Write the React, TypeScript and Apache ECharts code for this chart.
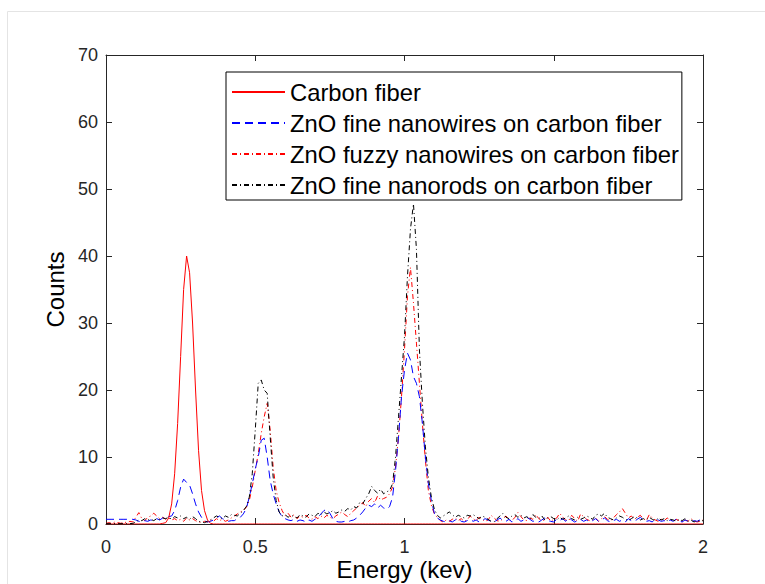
import React, { useEffect, useRef } from "react";
import * as echarts from "echarts";

// Energy grid: 0 to 2 keV in 0.01 keV steps (201 channels)
const energyStep = 0.01;
const channelCount = 201;

const seriesNames = [
  "Carbon fiber",
  "ZnO fine nanowires on carbon fiber",
  "ZnO fuzzy nanowires on carbon fiber",
  "ZnO fine nanorods on carbon fiber",
];

const xTicks = [0, 0.5, 1, 1.5, 2];
const yTicks = [0, 10, 20, 30, 40, 50, 60, 70];

// Counts per channel
const carbonFiber = [
  0, 0, 0, 0, 0, 0, 0, 0, 0, 0,
  0, 0, 0, 0, 0, 0, 0, 0, 0, 0.1,
  0.2, 0.9, 3.0, 7.5, 15, 25, 35, 40, 37.5, 30,
  20, 11, 5, 2, 0.6, 0.1, 0, 0, 0, 0,
  0, 0, 0, 0, 0, 0, 0, 0, 0, 0,
  0, 0, 0, 0, 0, 0, 0, 0, 0, 0,
  0, 0, 0, 0, 0, 0, 0, 0, 0, 0,
  0, 0, 0, 0, 0, 0, 0, 0, 0, 0,
  0, 0, 0, 0, 0, 0, 0, 0, 0, 0,
  0, 0, 0, 0, 0, 0, 0, 0, 0, 0,
  0, 0, 0, 0, 0, 0, 0, 0, 0, 0,
  0, 0, 0, 0, 0, 0, 0, 0, 0, 0,
  0, 0, 0, 0, 0, 0, 0, 0, 0, 0,
  0, 0, 0, 0, 0, 0, 0, 0, 0, 0,
  0, 0, 0, 0, 0, 0, 0, 0, 0, 0,
  0, 0, 0, 0, 0, 0, 0, 0, 0, 0,
  0, 0, 0, 0, 0, 0, 0, 0, 0, 0,
  0, 0, 0, 0, 0, 0, 0, 0, 0, 0,
  0, 0, 0, 0, 0, 0, 0, 0, 0, 0,
  0, 0, 0, 0, 0, 0, 0, 0, 0, 0,
  0,
];

const fineNanowires = [
  0.7, 0.7, 0.7, 0.7, 0.7, 0.7, 0.7, 0.7, 0.7, 0.7,
  0.6, 0.4, 0.3, 0.5, 0.4, 0.6, 0.5, 0.8, 0.6, 0.9,
  1.0, 1.1, 1.2, 2.0, 3.5, 5.5, 6.7, 6.2, 5.8, 4.5,
  3.0, 1.8, 1.0, 0.5, 0.3, 0.4, 0.6, 0.9, 1.2, 0.8,
  0.6, 0.4, 0.5, 0.5, 0.8, 1.0, 1.5, 2.3, 4.0, 6.0,
  8.2, 10, 12.5, 12.8, 10, 6.5, 4.5, 3.0, 1.8, 1.1,
  0.8, 0.6, 0.5, 0.7, 0.4, 0.6, 0.5, 0.3, 0.6, 0.4,
  0.7, 1.0, 1.5, 2.0, 2.2, 1.6, 0.8, 0.4, 0.3, 0.3,
  0.4, 0.3, 0.5, 0.6, 0.9, 1.3, 1.8, 2.4, 2.8, 2.6,
  3.0, 2.4, 2.8, 2.4, 2.2, 2.6, 4.0, 8.0, 13, 19,
  23, 25.5, 24.5, 22, 21, 19, 15, 10, 6, 3.5,
  1.6, 0.9, 0.6, 0.4, 0.3, 0.5, 0.3, 0.6, 0.8, 0.4,
  0.3, 0.5, 0.7, 0.4, 0.6, 0.3, 0.5, 0.8, 0.6, 0.4,
  0.3, 0.6, 0.9, 0.5, 0.4, 0.7, 0.3, 0.5, 0.8, 0.4,
  0.6, 1.0, 0.7, 0.4, 0.5, 0.3, 0.6, 0.9, 0.5, 0.4,
  0.3, 0.7, 0.5, 0.8, 0.4, 1.0, 0.6, 0.3, 0.5, 0.7,
  0.4, 0.6, 0.3, 0.5, 0.8, 0.4, 0.6, 0.9, 0.5, 0.3,
  0.5, 0.7, 0.4, 0.6, 0.3, 0.8, 0.5, 0.4, 0.7, 1.0,
  0.6, 0.4, 0.5, 0.3, 0.8, 0.6, 0.4, 0.5, 0.3, 0.6,
  0.4, 0.7, 0.5, 0.3, 0.6, 0.4, 0.3, 0.5, 0.4, 0.6,
  1.2,
];

const fuzzyNanowires = [
  0.1, 0.2, 0.1, 0.3, 0.2, 0.1, 0.3, 0.2, 0.4, 0.3,
  1.0, 1.7, 0.8, 0.5, 1.0, 1.2, 1.6, 1.2, 0.8, 1.0,
  0.7, 0.9, 0.6, 0.8, 0.5, 0.7, 0.4, 0.9, 0.6, 0.8,
  0.5, 0.3, 0.2, 0.4, 0.3, 0.6, 0.4, 0.8, 0.5, 0.7,
  0.4, 0.6, 0.9, 1.2, 1.5, 1.8, 2.0, 2.5, 3.5, 5.5,
  8, 10.5, 13.5, 16, 18, 14, 8.5, 5, 3.2, 2.0,
  1.2, 1.6, 1.0, 1.4, 0.8, 1.2, 1.0, 1.3, 0.9, 0.7,
  1.1, 0.8, 1.2, 0.9, 1.3, 1.0, 0.8, 1.2, 1.5, 1.8,
  1.4, 1.1, 1.6, 2.0, 2.4, 2.8, 3.2, 2.6, 3.4, 3.8,
  3.2, 4.2, 3.6, 3.8, 4.0, 4.5, 5.5, 8.5, 13, 19,
  26, 34, 38.3, 33, 27, 21, 15, 9.5, 5, 2.8,
  1.5, 1.0, 0.5, 0.3, 0.6, 0.4, 0.7, 0.9, 0.5, 0.8,
  0.4, 0.6, 1.2, 0.8, 0.5, 1.0, 0.7, 0.4, 0.6, 1.3,
  0.9, 0.5, 0.4, 0.8, 1.2, 0.6, 0.5, 1.0, 1.7, 1.1,
  0.6, 0.5, 0.9, 0.7, 1.4, 0.8, 0.5, 0.6, 1.0, 0.4,
  0.7, 0.9, 1.6, 1.0, 0.6, 0.5, 1.3, 0.8, 0.4, 1.5,
  1.1, 0.7, 0.5, 0.6, 0.9, 0.4, 0.8, 1.1, 0.7, 0.5,
  0.9, 1.4, 1.8, 2.3, 1.6, 0.9, 1.2, 0.7, 1.0, 1.3,
  0.8, 0.5, 1.4, 0.9, 0.6, 0.4, 0.7, 0.5, 0.9, 0.6,
  0.4, 0.7, 0.5, 0.3, 0.6, 0.4, 0.8, 0.5, 0.3, 0.4,
  0.6,
];

const fineNanorods = [
  0.05, 0.05, 0.05, 0.05, 0.05, 0.05, 0.05, 0.05, 0.05, 0.1,
  0.3, 0.6, 0.5, 0.8, 0.6, 0.7, 0.5, 0.8, 0.7, 0.9,
  0.8, 1.0, 0.7, 1.1, 0.9, 1.2, 0.8, 1.0, 0.7, 1.1,
  0.8, 0.4, 0.3, 0.2, 0.4, 0.6, 0.9, 1.2, 1.0, 0.8,
  1.2, 1.0, 1.4, 1.3, 1.2, 1.6, 2.0, 2.6, 4.0, 7.5,
  14, 21, 21.5, 20, 19.5, 13, 7, 3.5, 1.8, 1.2,
  1.4, 1.0, 1.3, 1.1, 0.9, 1.4, 1.2, 1.0, 1.5, 1.3,
  1.1, 1.6, 1.4, 1.8, 1.5, 1.7, 2.0, 1.6, 1.8, 2.1,
  1.9, 2.3, 2.1, 2.6, 2.4, 3.2, 3.0, 3.8, 4.5, 5.6,
  5.0, 4.6, 5.2, 4.5, 4.8, 5.0, 6.0, 10, 16, 22,
  28, 37, 44, 47.8, 41, 26, 18, 11.5, 7, 4,
  2.2, 1.3, 0.9, 1.2, 1.5, 1.8, 1.4, 1.0, 1.3, 1.1,
  0.9, 1.3, 1.2, 1.4, 1.1, 0.8, 1.2, 1.0, 0.7, 0.4,
  0.3, 0.8, 1.2, 1.6, 1.0, 0.8, 1.2, 1.4, 1.0, 1.3,
  0.9, 1.1, 0.7, 1.4, 1.0, 0.8, 1.2, 0.6, 0.9, 1.1,
  0.8, 0.6, 1.0, 0.7, 0.9, 1.2, 0.8, 0.6, 1.0, 0.7,
  0.9, 1.2, 1.0, 0.7, 1.3, 1.5, 1.2, 1.6, 1.0, 0.8,
  0.6, 0.9, 1.2, 1.0, 0.7, 0.5, 0.8, 1.1, 0.9, 0.6,
  0.8, 0.6, 1.0, 0.7, 0.5, 0.9, 0.6, 0.8, 0.5, 0.7,
  0.6, 0.4, 0.7, 0.5, 0.8, 0.4, 0.6, 0.3, 0.5, 0.4,
  0.5,
];

const FONT = "Arial, 'Liberation Sans', Helvetica, sans-serif";
const AXIS_COLOR = "#262626";

function toPoints(values: number[]): [number, number][] {
  const pts: [number, number][] = [];
  for (let i = 0; i < channelCount && i < values.length; i++) {
    pts.push([+(i * energyStep).toFixed(2), values[i]]);
  }
  return pts;
}

const tickFmt = (v: number) => String(+v.toFixed(2));

export default function App() {
  const ref = useRef<HTMLDivElement>(null);

  useEffect(() => {
    if (!ref.current) return;
    const chart = echarts.init(ref.current, undefined, { renderer: "svg" });

    const axisCommon = {
      type: "value" as const,
      axisLine: { show: true, onZero: false, lineStyle: { color: AXIS_COLOR, width: 1 } },
      axisTick: { show: true, inside: true, length: 6, lineStyle: { color: AXIS_COLOR } },
      splitLine: { show: false },
    };

    const lineSeries = (
      name: string,
      values: number[],
      color: string,
      type: any,
      z: number
    ) => ({
      name,
      type: "line",
      data: toPoints(values),
      symbol: "none",
      showSymbol: false,
      z,
      lineStyle: { color, width: 1, type },
      itemStyle: { color },
    });

    chart.setOption({
      animation: false,
      backgroundColor: "#ffffff",
      graphic: [
        {
          type: "rect",
          shape: { x: 7.5, y: 11.5, width: 800, height: 620 },
          style: { fill: "none", stroke: "#e4e4e4", lineWidth: 1 },
          silent: true,
          z: -10,
        },
      ],
      grid: {
        left: 106,
        top: 55,
        width: 597,
        height: 469,
        containLabel: false,
        outerBoundsMode: "none",
      },
      xAxis: [
        {
          ...axisCommon,
          position: "bottom",
          min: 0,
          max: 2,
          interval: 0.5,
          name: "Energy (kev)",
          nameLocation: "middle",
          nameGap: 33,
          nameMoveOverlap: false,
          nameTextStyle: { fontFamily: FONT, fontSize: 24, color: "#000" },
          axisLabel: {
            show: true,
            margin: 14,
            fontFamily: FONT,
            fontSize: 18,
            color: "#262626",
            formatter: tickFmt,
            customValues: xTicks,
          },
        },
        {
          ...axisCommon,
          position: "top",
          min: 0,
          max: 2,
          interval: 0.5,
          axisLabel: { show: false },
        },
      ],
      yAxis: [
        {
          ...axisCommon,
          position: "left",
          min: 0,
          max: 70,
          interval: 10,
          name: "Counts",
          nameLocation: "middle",
          nameGap: 31,
          nameTextStyle: { fontFamily: FONT, fontSize: 24, color: "#000" },
          axisLabel: {
            show: true,
            margin: 8,
            fontFamily: FONT,
            fontSize: 18,
            color: "#262626",
            formatter: tickFmt,
            customValues: yTicks,
          },
        },
        {
          ...axisCommon,
          position: "right",
          min: 0,
          max: 70,
          interval: 10,
          axisLabel: { show: false },
        },
      ],
      legend: {
        show: true,
        orient: "vertical",
        left: 226,
        top: 72,
        backgroundColor: "#ffffff",
        borderColor: "#000000",
        borderWidth: 1,
        borderRadius: 0,
        padding: [8, 3, 3, 5],
        itemWidth: 53,
        itemHeight: 12,
        itemGap: 7,
        itemStyle: { opacity: 0 },
        textStyle: { fontFamily: FONT, fontSize: 23.8, color: "#000", lineHeight: 24 },
        data: seriesNames,
      },
      series: [
        lineSeries(seriesNames[0], carbonFiber, "#ff0000", "solid", 5),
        lineSeries(seriesNames[1], fineNanowires, "#0000ff", [8, 5], 4),
        lineSeries(seriesNames[2], fuzzyNanowires, "#ff0000", [5, 3, 1, 3], 3),
        lineSeries(seriesNames[3], fineNanorods, "#000000", [5, 3, 1, 3], 6),
      ],
    });

    return () => chart.dispose();
  }, []);

  return (
    <div
      ref={ref}
      style={{ position: "fixed", left: 0, top: 0, width: 765, height: 584, background: "#fff" }}
    />
  );
}
